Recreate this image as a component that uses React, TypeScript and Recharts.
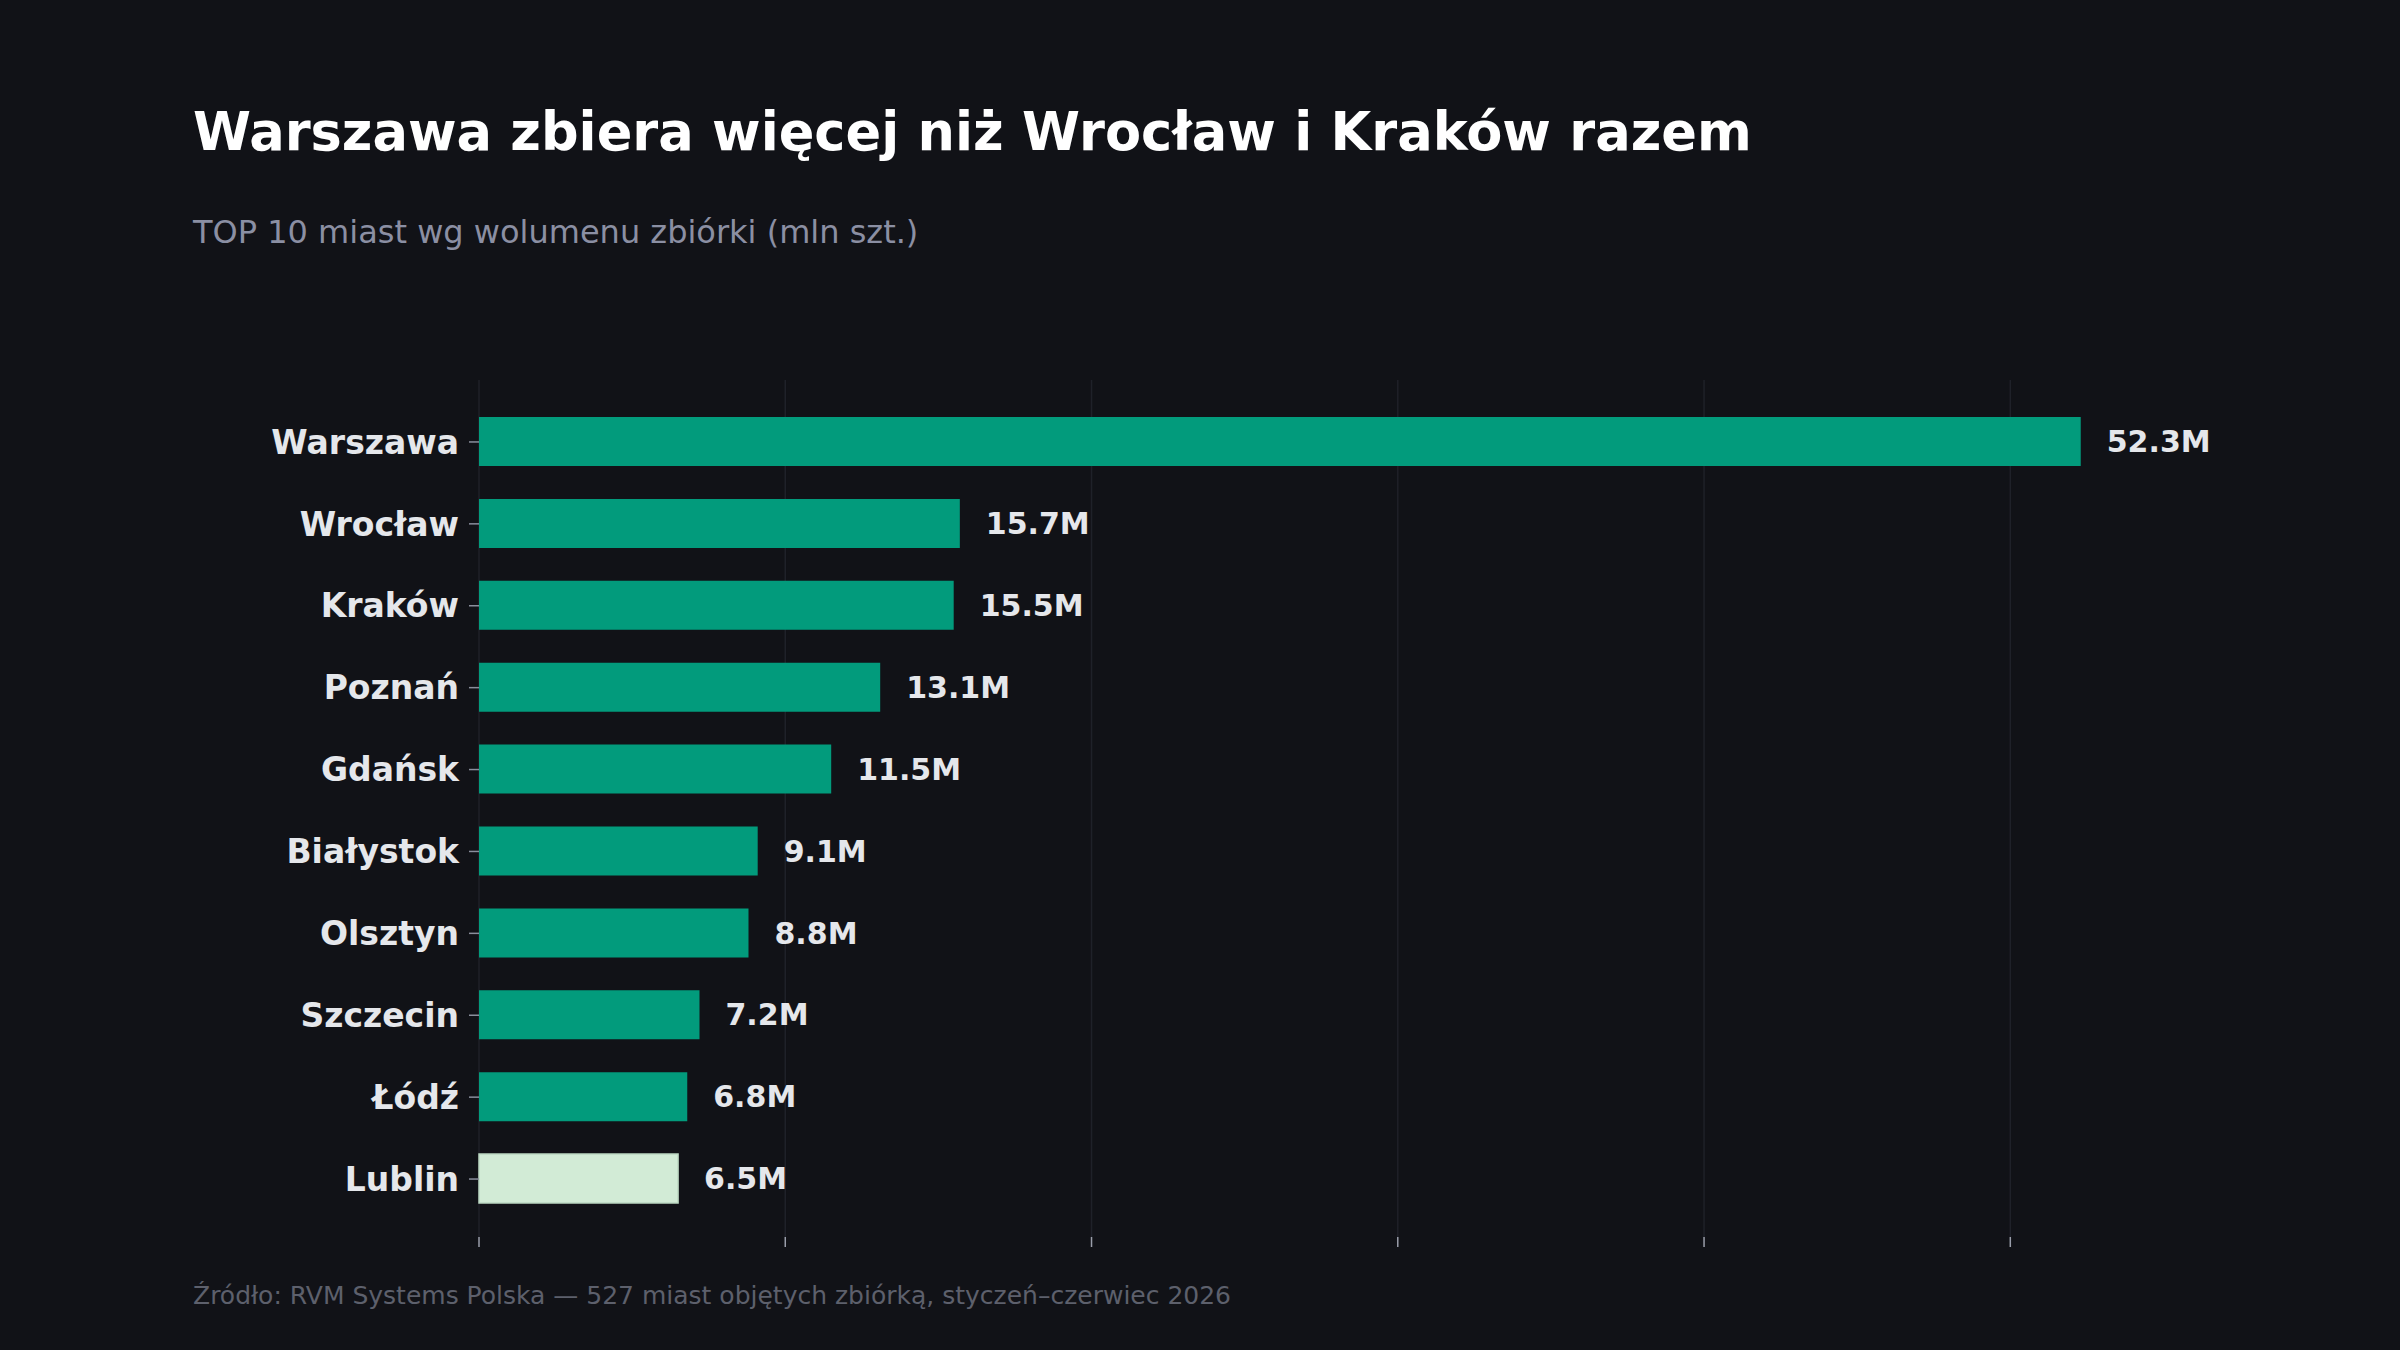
import React from 'react';
import { BarChart, Bar, XAxis, YAxis, CartesianGrid, Cell, LabelList } from 'recharts';

const cities = ['Warszawa', 'Wrocław', 'Kraków', 'Poznań', 'Gdańsk', 'Białystok', 'Olsztyn', 'Szczecin', 'Łódź', 'Lublin'];
const volumes = [52.3, 15.7, 15.5, 13.1, 11.5, 9.1, 8.8, 7.2, 6.8, 6.5];
const xTicks = [0, 10, 20, 30, 40, 50];
const highlighted = 'Lublin';

const title = 'Warszawa zbiera więcej niż Wrocław i Kraków razem';
const subtitle = 'TOP 10 miast wg wolumenu zbiórki (mln szt.)';
const source = 'Źródło: RVM Systems Polska — 527 miast objętych zbiórką, styczeń–czerwiec 2026';

const data = cities.map((name, i) => ({ name, value: volumes[i] }));

const FONT = '"DejaVu Sans", sans-serif';
const BG = '#111217';

export default function App() {
  return (
    <div style={{ position: 'absolute', left: 0, top: 0, width: 2400, height: 1350, background: BG, fontFamily: FONT }}>
      <BarChart
        width={2400}
        height={1350}
        data={data}
        layout="vertical"
        margin={{ top: 380, right: 160, bottom: 83, left: 0 }}
      >
        <CartesianGrid horizontal={false} verticalValues={xTicks} stroke="#1f2129" strokeWidth={1.5} />
        <XAxis
          type="number"
          domain={[0, 57.5]}
          ticks={xTicks}
          height={30}
          axisLine={false}
          tickLine={{ stroke: '#9a9eab', strokeWidth: 1.5 }}
          tickSize={10}
          tickFormatter={() => ''}
        />
        <YAxis
          type="category"
          dataKey="name"
          width={479}
          axisLine={false}
          padding={{ top: 21, bottom: 17 }}
          tickLine={{ stroke: '#8a8e9c', strokeWidth: 1.5 }}
          tickSize={10}
          tickMargin={10}
          tick={{ fill: '#e5e7eb', fontSize: 33, fontWeight: 'bold', fontFamily: FONT }}
        />
        <Bar dataKey="value" barSize={49} isAnimationActive={false}>
          {data.map((d) => (
            <Cell
              key={d.name}
              fill={d.name === highlighted ? '#d2ebd6' : '#029b7c'}
              stroke={d.name === highlighted ? '#bcd8c2' : 'none'}
              strokeWidth={d.name === highlighted ? 1.5 : 0}
            />
          ))}
          <LabelList
            dataKey="value"
            position="right"
            offset={26}
            formatter={(v: number) => `${v}M`}
            fill="#e5e7eb"
            fontSize={30}
            fontWeight="bold"
            fontFamily={FONT}
          />
        </Bar>
      </BarChart>
      <svg width={2400} height={1350} style={{ position: 'absolute', left: 0, top: 0, pointerEvents: 'none' }}>
        <text x={193} y={150} fill="#ffffff" fontSize={52.6} fontWeight="bold" fontFamily={FONT}>{title}</text>
        <text x={193} y={243} fill="#8b8fa3" fontSize={32} fontFamily={FONT}>{subtitle}</text>
        <text x={193} y={1304} fill="#5d606c" fontSize={25} fontFamily={FONT}>{source}</text>
      </svg>
    </div>
  );
}
